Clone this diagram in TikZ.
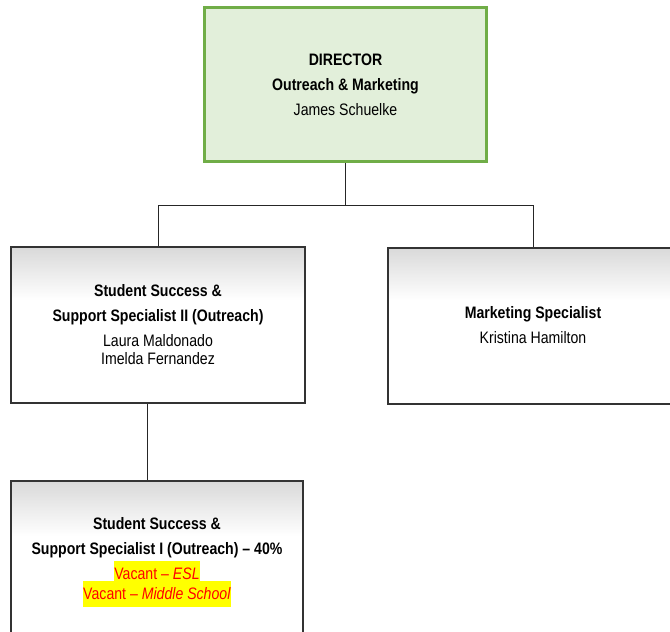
\documentclass[tikz,border=0pt]{standalone}
\usepackage{fontspec}
\setmainfont{Liberation Sans}[FakeStretch=0.85]
\usepackage{xcolor}
\definecolor{dirfill}{HTML}{E2EFDA}
\definecolor{dirline}{HTML}{70AD47}
\definecolor{boxline}{HTML}{333333}
\definecolor{vacred}{HTML}{FF0000}
\definecolor{vachl}{HTML}{FFFF00}
\pgfdeclareverticalshading{boxshade}{100bp}{%
  color(0bp)=(white); color(25bp)=(white); color(58bp)=(white);
  color(75bp)=(black!15); color(100bp)=(black!15)}
\newcommand{\vac}[1]{{\setlength{\fboxsep}{0.5pt}\colorbox{vachl}{\strut\color{vacred}#1}}}
\tikzset{
  orgtext/.style={align=center, font=\fontsize{16.6}{25}\selectfont, inner sep=0pt},
  dirbox/.style={orgtext, draw=dirline, line width=3.5pt, fill=dirfill,
    minimum width=282pt, minimum height=154pt},
  staffbox/.style={orgtext, draw=boxline, line width=2pt, shading=boxshade,
    minimum height=156pt},
  link/.style={draw=black!85, line width=0.9pt},
}
\begin{document}
\begin{tikzpicture}[x=1pt,y=-1pt]
  \useasboundingbox (0,0) rectangle (670,632);
  \clip (0,0) rectangle (670,632);

  % level of the horizontal bar under the director
  \coordinate (bar) at (0,205);
  \node[dirbox] (dir) at (345.5,84.5)
    {\textbf{DIRECTOR}\\\textbf{Outreach \& Marketing}\\James Schuelke};
  \node[staffbox, minimum width=294pt] (left) at (158,325)
    {\textbf{Student Success \&}\\\textbf{Support Specialist II (Outreach)}\\Laura Maldonado\\[-7pt]Imelda Fernandez};
  \node[staffbox, minimum width=290pt] (right) at (533,325.5)
    {\textbf{Marketing Specialist}\\Kristina Hamilton};
  \node[staffbox, minimum width=292pt, minimum height=162pt] (bottom) at (157,562)
    {\textbf{Student Success \&}\\\textbf{Support Specialist I (Outreach) -- 40\%}\\
     \vac{Vacant -- \textit{ESL}}\\[-7pt]\vac{Vacant -- \textit{Middle School}}};

  % connectors
  \draw[link] (dir.south) -- (dir.south |- bar);
  \draw[link] (left.north) |- (bar -| right.north) -- (right.north);
  \draw[link] ([xshift=-11pt]left.south) -- ([xshift=-10pt]bottom.north);
\end{tikzpicture}
\end{document}
